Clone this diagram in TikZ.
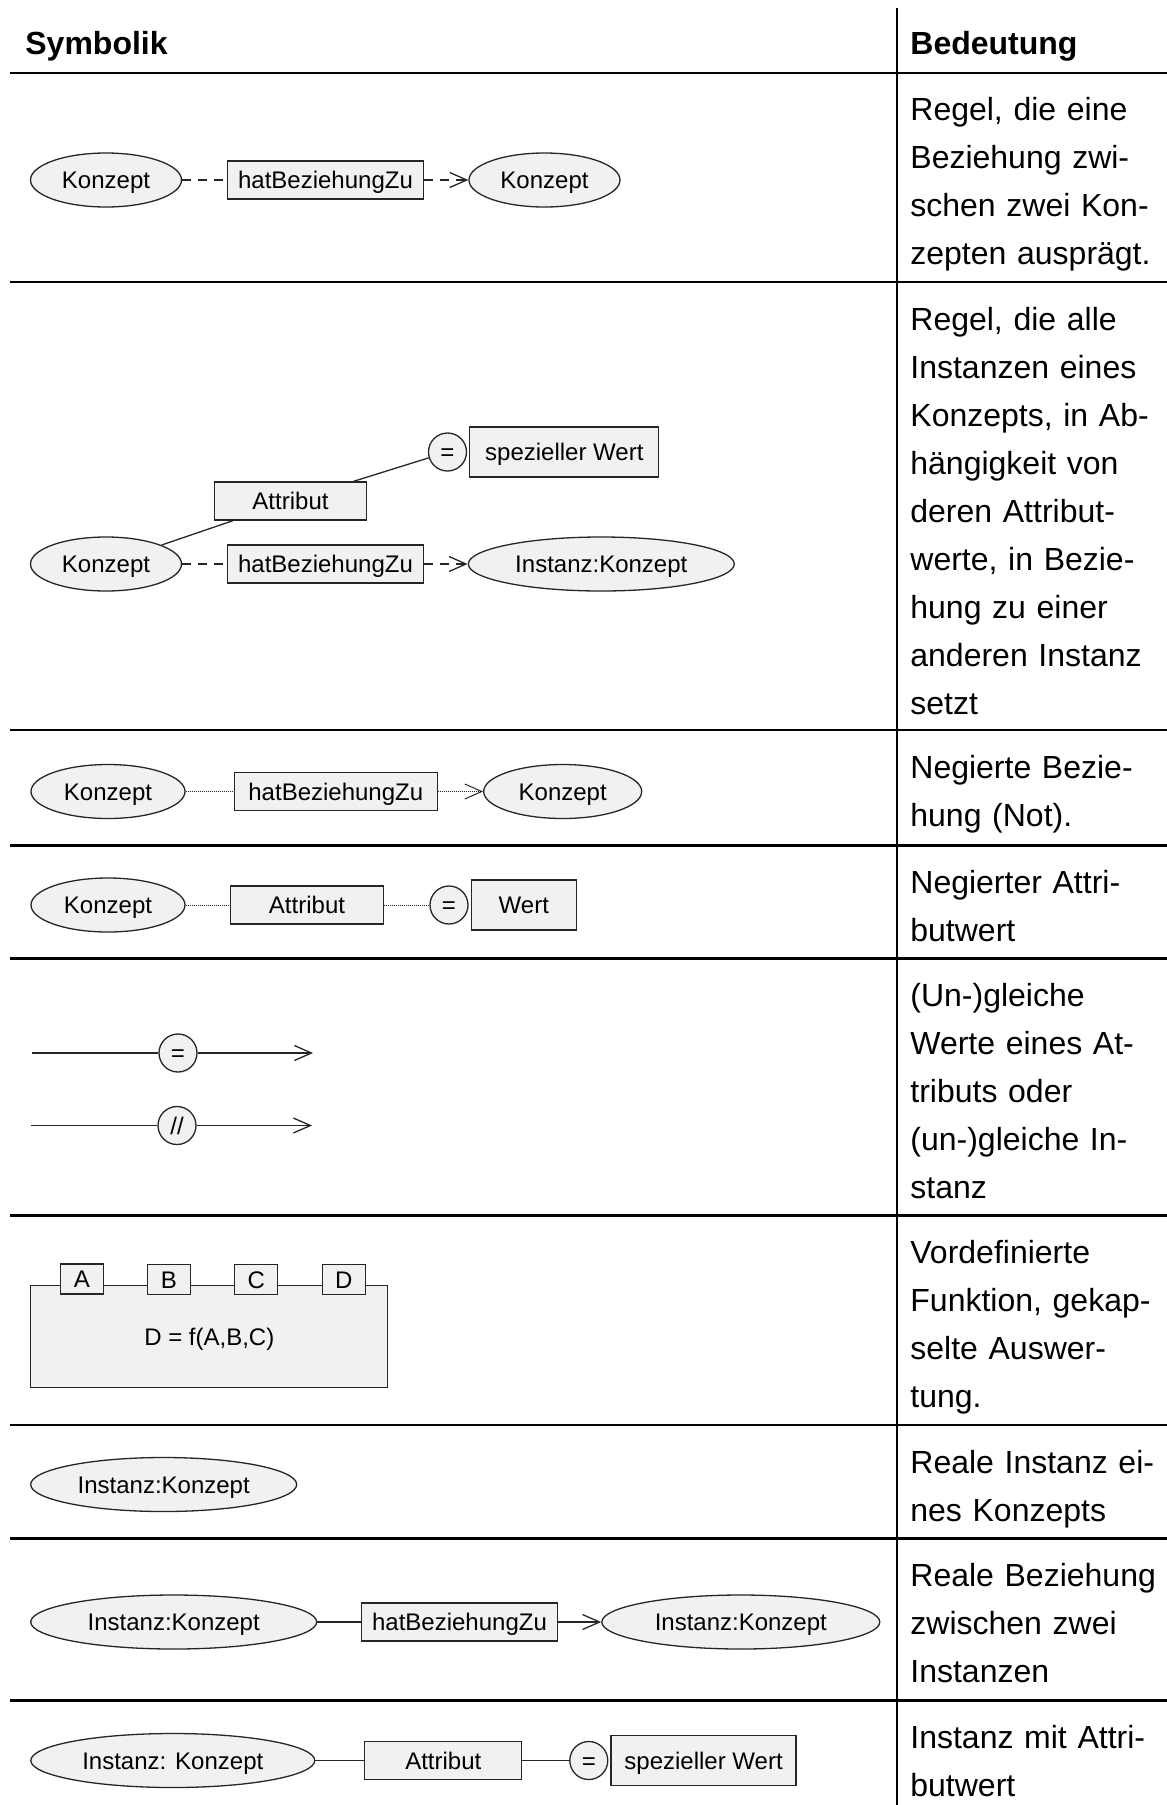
\documentclass[tikz,border=0pt]{standalone}
\usepackage{fontspec}
\setmainfont{Liberation Sans}
\usepackage{tikz}
\usetikzlibrary{shapes.geometric, arrows.meta, positioning}
\definecolor{boxgrau}{RGB}{241,241,241}
\tikzset{
    konzept/.style={
        ellipse,
        draw=black!85,
        line width=0.65pt,
        fill=boxgrau,
        inner sep=0pt,
        minimum height=27pt,
        minimum width=#1,
        text height=8.6pt,
        text depth=0pt,
        font=\fontsize{12}{14}\selectfont
    },
    relation/.style={
        rectangle,
        draw=black!85,
        line width=0.65pt,
        fill=boxgrau,
        inner sep=0pt,
        minimum height=19pt,
        minimum width=#1,
        text height=8.6pt,
        text depth=0pt,
        font=\fontsize{12}{14}\selectfont
    },
    wert/.style={
        relation=#1,
        minimum height=25pt
    },
    vergleich/.style={
        circle,
        draw=black!85,
        line width=0.65pt,
        fill=boxgrau,
        inner sep=0pt,
        minimum size=19pt,
        text height=8.6pt,
        text depth=0pt,
        font=\fontsize{12}{14}\selectfont
    },
    eingang/.style={
        relation=21.5pt,
        minimum height=15pt
    },
    funktion/.style={
        rectangle,
        draw=black!85,
        line width=0.65pt,
        fill=boxgrau,
        minimum width=178.5pt,
        minimum height=51pt,
        text height=8.6pt,
        text depth=0pt,
        font=\fontsize{12}{14}\selectfont
    },
    kopf/.style={
        anchor=base west,
        inner sep=0pt,
        font=\fontsize{16}{24}\selectfont\bfseries
    },
    erklaerung/.style={
        anchor=base west,
        inner sep=0pt,
        text width=130pt,
        align=left,
        font=\fontsize{16}{24}\selectfont
    },
    trennlinie/.style={
        line width=1.15pt
    },
    verbindung/.style={
        draw=black!85,
        line width=0.65pt
    },
    gestrichelt/.style={
        verbindung,
        dash pattern=on 4.5pt off 3.5pt
    },
    gepunktet/.style={
        verbindung,
        line width=0.5pt,
        dash pattern=on 0.5pt off 0.5pt
    },
    pfeil/.style={
        -{Straight Barb[length=8.5pt,width=7.5pt]}
    }
}

\begin{document}
\begin{tikzpicture}[x=0.5pt, y=-0.5pt, node distance=1pt]
                \useasboundingbox (0,0) rectangle (1167,1805);

                \draw[trennlinie] (897,8) -- (897,1805);
                \draw[trennlinie] (9.5,72.7) -- (1167,72.7);
                \draw[trennlinie] (9.5,282) -- (1167,282);
                \draw[trennlinie] (9.5,730) -- (1167,730);
                \draw[trennlinie] (9.5,845.5) -- (1167,845.5);
                \draw[trennlinie] (9.5,958.5) -- (1167,958.5);
                \draw[trennlinie] (9.5,1215.5) -- (1167,1215.5);
                \draw[trennlinie] (9.5,1425) -- (1167,1425);
                \draw[trennlinie] (9.5,1538.5) -- (1167,1538.5);
                \draw[trennlinie] (9.5,1700.5) -- (1167,1700.5);

                \node[kopf] (symbolik)  at (25,54)  {Symbolik};
                \node[kopf] (bedeutung) at (910,54) {Bedeutung};

                \node[erklaerung] (txtregel)   at (910,120.7)  {Regel, die eine\\Beziehung zwi-\\schen zwei Kon-\\zepten ausprägt.};
                \node[erklaerung] (txtinstanz) at (910,330)    {Regel, die alle\\Instanzen eines\\Konzepts, in Ab-\\hängigkeit von\\deren Attribut-\\werte, in Bezie-\\hung zu einer\\anderen Instanz\\setzt};
                \node[erklaerung] (txtnot)     at (910,778)    {Negierte Bezie-\\hung (Not).};
                \node[erklaerung] (txtnotwert) at (910,893.5)  {Negierter Attri-\\butwert};
                \node[erklaerung] (txtgleich)  at (910,1006.5) {(Un-)gleiche\\Werte eines At-\\tributs oder\\(un-)gleiche In-\\stanz};
                \node[erklaerung] (txtfkt)     at (910,1263.5) {Vordefinierte\\Funktion, gekap-\\selte Auswer-\\tung.};
                \node[erklaerung] (txtreal)    at (910,1473)   {Reale Instanz ei-\\nes Konzepts};
                \node[erklaerung] (txtrealbez) at (910,1586.5) {Reale Beziehung\\zwischen zwei\\Instanzen};
                \node[erklaerung] (txtrealatt) at (910,1748.5) {Instanz mit Attri-\\butwert};

                \node[konzept=75.5pt]  (regelvon) at (106,180)   {Konzept};
                \node[relation=97.8pt] (regelbez) at (325.5,180) {hatBeziehungZu};
                \node[konzept=75.5pt]  (regelzu)  at (544.5,180) {Konzept};
                \draw[gestrichelt]       (regelvon) -- (regelbez);
                \draw[gestrichelt, pfeil] (regelbez) -- (regelzu);

                \node[konzept=75.5pt]  (instvon)  at (106,564)   {Konzept};
                \node[relation=97.8pt] (instbez)  at (325.5,564) {hatBeziehungZu};
                \node[konzept=133pt]   (instzu)   at (601.3,564) {Instanz:Konzept};
                \node[relation=76pt]   (instattr) at (290.5,501) {Attribut};
                \node[vergleich]       (instgl)   at (447.5,452) {=};
                \node[wert=94.5pt, right=of instgl] (instwert) {spezieller Wert};
                \draw[gestrichelt]        (instvon)  -- (instbez);
                \draw[gestrichelt, pfeil] (instbez)  -- (instzu);
                \draw[verbindung]         (instvon)  -- (instattr);
                \draw[verbindung]         (instattr) -- (instgl);

                \node[konzept=77pt]     (notvon) at (108,791.5)   {Konzept};
                \node[relation=101.5pt] (notbez) at (335.8,791.5) {hatBeziehungZu};
                \node[konzept=79pt]     (notzu)  at (562.7,791.5) {Konzept};
                \draw[gepunktet]        (notvon) -- (notbez);
                \draw[gepunktet, pfeil] (notbez) -- (notzu);

                \node[konzept=77pt]   (nwvon)  at (108,905) {Konzept};
                \node[relation=76.5pt] (nwattr) at (307,905) {Attribut};
                \node[vergleich]      (nwgl)   at (449,905) {=};
                \node[wert=52.5pt, right=of nwgl] (nwwert) {Wert};
                \draw[gepunktet] (nwvon)  -- (nwattr);
                \draw[gepunktet] (nwattr) -- (nwgl);

                \coordinate (gleichanf) at (32,1053);
                \coordinate (gleichend) at (313,1053);
                \node[vergleich] (gleich) at (178,1053) {=};
                \draw[verbindung]        (gleichanf) -- (gleich);
                \draw[verbindung, pfeil] (gleich) -- (gleichend);

                \coordinate (ungleichanf) at (31,1125.5);
                \coordinate (ungleichend) at (312,1125.5);
                \node[vergleich] (ungleich) at (177,1125.5) {//};
                \draw[verbindung]        (ungleichanf) -- (ungleich);
                \draw[verbindung, pfeil] (ungleich) -- (ungleichend);

                \node[funktion] (fkt) at (209.3,1336.7) {D = f(A,B,C)};
                \node[eingang]  (fkta) at (82,1279)    {A};
                \node[eingang]  (fktb) at (169,1279.5) {B};
                \node[eingang]  (fktc) at (256.3,1279.5) {C};
                \node[eingang]  (fktd) at (343.7,1279.5) {D};

                \node[konzept=133pt] (realinst) at (163.7,1484.5) {Instanz:Konzept};

                \node[konzept=143pt]   (rbvon) at (173.7,1622) {Instanz:Konzept};
                \node[relation=97.8pt] (rbbez) at (459.5,1622) {hatBeziehungZu};
                \node[konzept=139pt]   (rbzu)  at (740.8,1622) {Instanz:Konzept};
                \draw[verbindung]        (rbvon) -- (rbbez);
                \draw[verbindung, pfeil] (rbbez) -- (rbzu);

                \node[konzept=142pt]   (rainst) at (172.8,1760.5) {Instanz: Konzept};
                \node[relation=78.5pt] (raattr) at (443.3,1760.5) {Attribut};
                \node[vergleich]       (ragl)   at (588.8,1760.5) {=};
                \node[wert=92.5pt, right=of ragl] (rawert) {spezieller Wert};
                \draw[verbindung] (rainst) -- (raattr);
                \draw[verbindung] (raattr) -- (ragl);
            \end{tikzpicture}
\end{document}
